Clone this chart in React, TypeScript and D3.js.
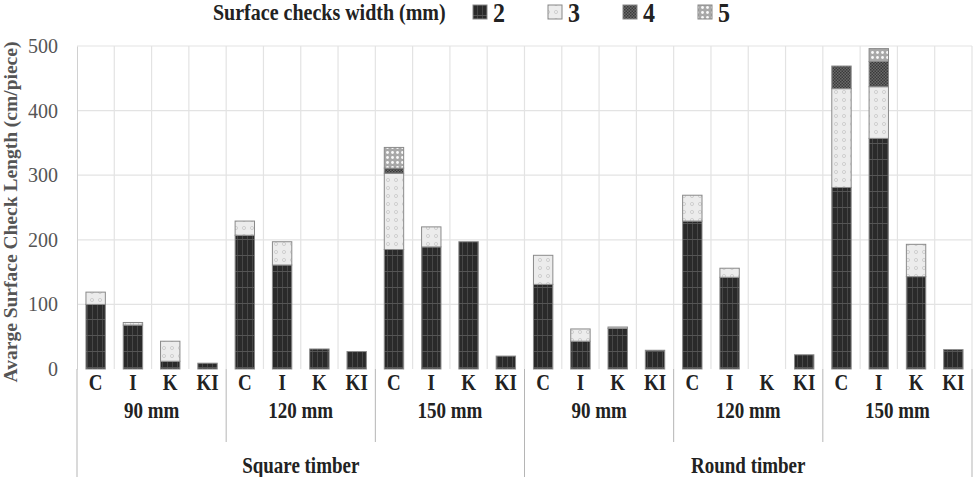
import React, { useEffect, useRef } from 'react';
import * as d3 from 'd3';

// stack layers = surface check width classes (mm)
const checkWidths = ['2', '3', '4', '5'];
const timberTypes = ['Square timber', 'Round timber'];
const diameters = ['90 mm', '120 mm', '150 mm'];
const treatments = ['C', 'I', 'K', 'KI'];

// one value per bar: timber type -> diameter -> treatment
const width2 = [100, 68, 12, 9, 207, 161, 31, 27, 185, 189, 197, 20, 131, 43, 63, 29, 229, 142, 0, 22, 281, 357, 143, 30];
const width3 = [19, 4, 31, 0, 22, 36, 0, 0, 118, 31, 0, 0, 45, 19, 2, 0, 40, 14, 0, 0, 153, 80, 50, 0];
const width4 = [0, 0, 0, 0, 0, 0, 0, 0, 8, 0, 0, 0, 0, 0, 0, 0, 0, 0, 0, 0, 35, 39, 0, 0];
const width5 = [0, 0, 0, 0, 0, 0, 0, 0, 32, 0, 0, 0, 0, 0, 0, 0, 0, 0, 0, 0, 0, 20, 0, 0];
const yTicks = [0, 100, 200, 300, 400, 500];

const W = 975;
const H = 477;
const margin = { top: 46, right: 3, bottom: 108, left: 77 };
const serif = "'Liberation Serif', 'Times New Roman', serif";

const App = () => {
  const svgRef = useRef<SVGSVGElement>(null);

  useEffect(() => {
    const svg = d3.select(svgRef.current);
    svg.selectAll('*').remove();

    const keys: string[] = [];
    timberTypes.forEach((t) => diameters.forEach((d) => treatments.forEach((c) => keys.push(`${t}|${d}|${c}`))));
    const rows = keys.map((key, i) => ({ key, '2': width2[i], '3': width3[i], '4': width4[i], '5': width5[i] }));

    const x = d3.scaleBand().domain(keys).range([margin.left, W - margin.right]).paddingInner(0.48).paddingOuter(0.24);
    const y = d3.scaleLinear().domain([0, 500]).range([H - margin.bottom, margin.top]);
    const x0 = margin.left;
    const bandLeft = (i: number) => x0 + i * ((W - margin.right - margin.left) / keys.length);

    // fill patterns for each width class
    const defs = svg.append('defs');
    const p2 = defs.append('pattern').attr('id', 'p2').attr('patternUnits', 'userSpaceOnUse').attr('width', 5).attr('height', 16);
    p2.append('rect').attr('width', 5).attr('height', 16).attr('fill', '#2a2a2a');
    p2.append('rect').attr('x', 2).attr('width', 1).attr('height', 16).attr('fill', '#474747');
    p2.append('rect').attr('y', 15).attr('width', 5).attr('height', 1).attr('fill', '#555');

    const p3 = defs.append('pattern').attr('id', 'p3').attr('patternUnits', 'userSpaceOnUse').attr('width', 8).attr('height', 8);
    p3.append('rect').attr('width', 8).attr('height', 8).attr('fill', '#ececec');
    p3.append('circle').attr('cx', 4).attr('cy', 4).attr('r', 1.6).attr('fill', 'none').attr('stroke', '#c8c8c8').attr('stroke-width', 0.8);

    const p4 = defs.append('pattern').attr('id', 'p4').attr('patternUnits', 'userSpaceOnUse').attr('width', 3).attr('height', 3);
    p4.append('rect').attr('width', 3).attr('height', 3).attr('fill', '#6a6a6a');
    p4.append('rect').attr('width', 1.5).attr('height', 1.5).attr('fill', '#3a3a3a');
    p4.append('rect').attr('x', 1.5).attr('y', 1.5).attr('width', 1.5).attr('height', 1.5).attr('fill', '#3a3a3a');

    const p5 = defs.append('pattern').attr('id', 'p5').attr('patternUnits', 'userSpaceOnUse').attr('width', 5).attr('height', 5);
    p5.append('rect').attr('width', 5).attr('height', 5).attr('fill', '#a8a8a8');
    p5.append('circle').attr('cx', 2.5).attr('cy', 2.5).attr('r', 1.4).attr('fill', '#fafafa');

    const fills: Record<string, string> = { '2': 'url(#p2)', '3': 'url(#p3)', '4': 'url(#p4)', '5': 'url(#p5)' };

    // gridlines
    const grid = svg.append('g').attr('stroke', '#e3e3e3').attr('stroke-width', 1.2);
    yTicks.filter((t) => t > 0).forEach((t) => {
      grid.append('line').attr('x1', x0).attr('x2', W - margin.right).attr('y1', y(t)).attr('y2', y(t));
    });
    for (let i = 1; i <= keys.length; i++) {
      grid.append('line').attr('x1', bandLeft(i)).attr('x2', bandLeft(i)).attr('y1', y(500)).attr('y2', y(0));
    }

    // stacked bars
    const series = d3.stack<any>().keys(checkWidths)(rows);
    series.forEach((s) => {
      svg
        .append('g')
        .selectAll('rect')
        .data(s.filter((d) => d[1] - d[0] > 0))
        .join('rect')
        .attr('x', (d) => x(d.data.key)!)
        .attr('y', (d) => y(d[1]))
        .attr('width', x.bandwidth())
        .attr('height', (d) => y(d[0]) - y(d[1]))
        .attr('fill', fills[s.key])
        .attr('stroke', '#8a8a8a')
        .attr('stroke-width', 1);
    });

    // y axis
    const yAxis = svg
      .append('g')
      .attr('transform', `translate(${x0},0)`)
      .call(d3.axisLeft(y).tickValues(yTicks).tickSize(0).tickPadding(19));
    yAxis.select('.domain').attr('stroke', '#d0d0d0');
    yAxis.selectAll('.tick text').attr('font-family', serif).attr('font-size', 20).attr('fill', '#555');

    svg
      .append('text')
      .attr('transform', 'translate(17,212) rotate(-90)')
      .attr('text-anchor', 'middle')
      .attr('font-family', serif)
      .attr('font-weight', 'bold')
      .attr('font-size', 19.5)
      .attr('fill', '#555')
      .text('Avarge Surface Check Length (cm/piece)');

    // category table under the plot
    const table = svg.append('g').attr('font-family', serif).attr('font-weight', 'bold').attr('fill', '#222').attr('text-anchor', 'middle');
    const lines = svg.append('g').attr('stroke', '#b5b5b5').attr('stroke-width', 1);
    const base = y(0);
    lines.append('line').attr('x1', x0).attr('x2', x0).attr('y1', base).attr('y2', H);
    lines.append('line').attr('x1', W - margin.right).attr('x2', W - margin.right).attr('y1', base).attr('y2', H);

    keys.forEach((key) => {
      const cx = x(key)! + x.bandwidth() / 2;
      table
        .append('text')
        .attr('transform', `translate(${cx},${base + 13}) scale(1,1.2)`)
        .attr('font-size', 19)
        .attr('dy', '0.35em')
        .text(key.split('|')[2]);
    });

    const perDiam = treatments.length;
    const perType = diameters.length * perDiam;
    timberTypes.forEach((t, ti) => {
      diameters.forEach((d, di) => {
        const start = ti * perType + di * perDiam;
        const cx = (bandLeft(start) + bandLeft(start + perDiam)) / 2;
        table
          .append('text')
          .attr('transform', `translate(${cx},${base + 41}) scale(1,1.2)`)
          .attr('font-size', 19)
          .attr('dy', '0.35em')
          .text(d);
        if (di > 0) {
          lines.append('line').attr('x1', bandLeft(start)).attr('x2', bandLeft(start)).attr('y1', base).attr('y2', base + 73);
        }
      });
      const cx = (bandLeft(ti * perType) + bandLeft((ti + 1) * perType)) / 2;
      table
        .append('text')
        .attr('transform', `translate(${cx},${base + 96}) scale(1,1.2)`)
        .attr('font-size', 19)
        .attr('dy', '0.35em')
        .text(t);
      if (ti > 0) {
        lines.append('line').attr('x1', bandLeft(ti * perType)).attr('x2', bandLeft(ti * perType)).attr('y1', base).attr('y2', H);
      }
    });

    // legend
    const legend = svg.append('g').attr('font-family', serif).attr('font-weight', 'bold').attr('fill', '#222');
    legend
      .append('text')
      .attr('transform', 'translate(213,12) scale(1,1.15)')
      .attr('font-size', 20)
      .attr('dy', '0.35em')
      .text('Surface checks width (mm)');
    const legendX = d3.scalePoint().domain(checkWidths).range([473, 698]);
    checkWidths.forEach((k) => {
      const lx = legendX(k)!;
      legend.append('rect').attr('x', lx).attr('y', 5).attr('width', 14).attr('height', 14).attr('fill', fills[k]).attr('stroke', '#888');
      legend
        .append('text')
        .attr('transform', `translate(${lx + 20},12.5) scale(1,1.1)`)
        .attr('font-size', 24)
        .attr('dy', '0.35em')
        .text(k);
    });
  }, []);

  return <svg ref={svgRef} width={W} height={H} style={{ position: 'absolute', left: 0, top: 0, background: '#fff' }} />;
};

export default App;
